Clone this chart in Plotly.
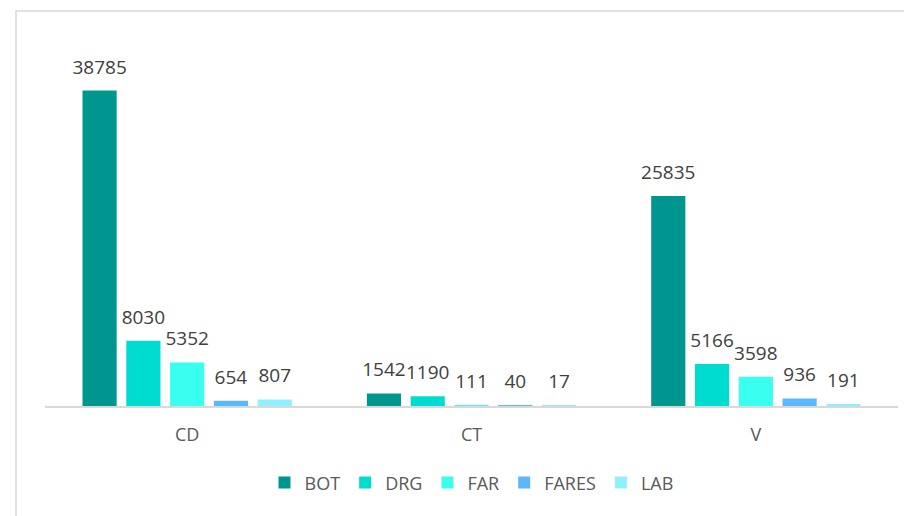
import plotly.graph_objects as go

categories = ["CD", "CT", "V"]
series_names = ["BOT", "DRG", "FAR", "FARES", "LAB"]
bot = [38785, 1542, 25835]
drg = [8030, 1190, 5166]
far = [5352, 111, 3598]
fares = [654, 40, 936]
lab = [807, 17, 191]
values = [bot, drg, far, fares, lab]
colors = ["#009690", "#00DCD0", "#38FFF0", "#5BB8FF", "#8FF0FF"]

fig = go.Figure()
for name, vals, col in zip(series_names, values, colors):
    fig.add_trace(go.Bar(
        name=name, x=categories, y=vals, marker_color=col, marker_line_width=0,
        text=[f"<span style='font-size:19px'>{v}</span><br><span style='font-size:2px'> </span>" for v in vals],
        textposition="outside", constraintext="none", cliponaxis=False,
        textfont=dict(family="Open Sans", size=10, color="#404040"),
    ))

fig.update_layout(
    width=912, height=516,
    margin=dict(l=37, r=22, t=32, b=118),
    plot_bgcolor="white", paper_bgcolor="white",
    barmode="group", bargap=0.23, bargroupgap=0.22,
    showlegend=True,
    legend=dict(orientation="h", x=0.5, xanchor="center", y=-0.21, yanchor="middle",
                font=dict(family="Open Sans", size=18, color="#595959"),
                itemwidth=30, traceorder="normal"),
    font=dict(family="Open Sans", size=18, color="#595959"),
    shapes=[dict(type="rect", xref="paper", yref="paper",
                 x0=(16 - 45) / 853, x1=1.2, y0=-0.6, y1=(406 - 11) / 366,
                 line=dict(color="#D9D9D9", width=1.5), layer="below")],
)
fig.update_xaxes(showline=True, linecolor="#D9D9D9", linewidth=1.5,
                 showgrid=False, ticks="", ticklabelstandoff=12,
                 tickfont=dict(family="Open Sans", size=18, color="#595959"))
fig.update_yaxes(range=[0, 45000], visible=False, showgrid=False, zeroline=False)

fig.write_html("out.html")
